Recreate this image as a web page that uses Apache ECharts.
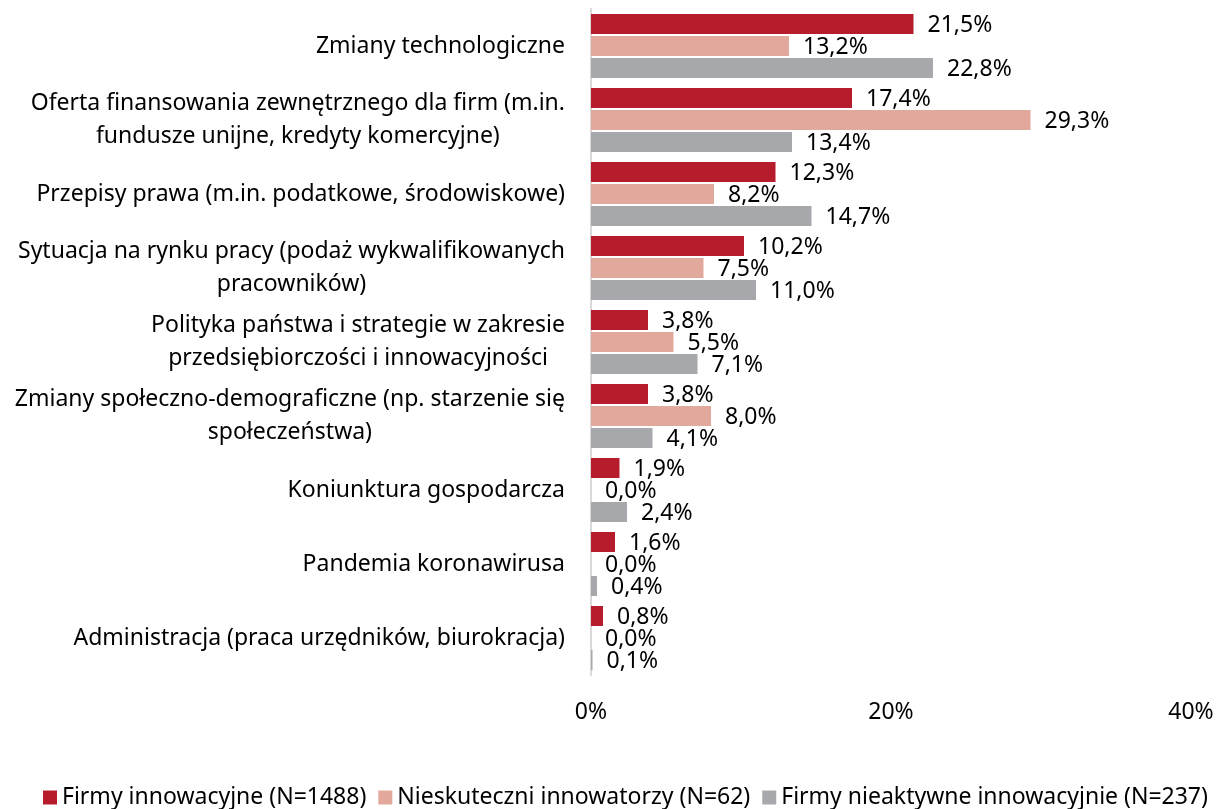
<!DOCTYPE html>
<html>
<head>
<meta charset="utf-8">
<script src="https://cdn.jsdelivr.net/npm/echarts@6/dist/echarts.min.js"></script>
<style>
html, body { margin: 0; padding: 0; background: #ffffff; }
#main { width: 1227px; height: 809px; }
</style>
</head>
<body>
<div id="main"></div>
<script>
// kategorie (od góry)
var categories = [
	'Zmiany technologiczne',
	'Oferta finansowania zewnętrznego dla firm (m.in.\nfundusze unijne, kredyty komercyjne)',
	'Przepisy prawa (m.in. podatkowe, środowiskowe)',
	'Sytuacja na rynku pracy (podaż wykwalifikowanych\npracowników)',
	'Polityka państwa i strategie w zakresie\nprzedsiębiorczości i innowacyjności',
	'Zmiany społeczno-demograficzne (np. starzenie się\nspołeczeństwa)',
	'Koniunktura gospodarcza',
	'Pandemia koronawirusa',
	'Administracja (praca urzędników, biurokracja)'
];
var innowacyjne = [21.5, 17.4, 12.3, 10.2, 3.8, 3.8, 1.9, 1.6, 0.8];
var nieskuteczni = [13.2, 29.3, 8.2, 7.5, 5.5, 8.0, 0.0, 0.0, 0.0];
var nieaktywne = [22.8, 13.4, 14.7, 11.0, 7.1, 4.1, 2.4, 0.4, 0.1];
var seriesNames = ['Firmy innowacyjne (N=1488)', 'Nieskuteczni innowatorzy (N=62)', 'Firmy nieaktywne innowacyjnie (N=237)'];
var colors = ['#b71c2c', '#e2a89c', '#a6a8ab'];

var font = 'Noto Sans';
var fs = 23;
var myChart = echarts.init(document.getElementById('main'));

var makeSeries = function(name, data, color) {
	return {
		name : name,
		type : 'bar',
		barGap : '10%',
		barCategoryGap : '13.5%',
		itemStyle : {
			color : color
		},
		label : {
			show : true,
			position : 'right',
			distance : 14,
			offset : [0, 1],
			color : '#000',
			fontFamily : font,
			fontSize : fs,
			formatter : function(p) {
				return p.value.toFixed(1).replace('.', ',') + '%';
			}
		},
		data : data
	};
};

option = {
	backgroundColor : '#ffffff',
	animation : false,
	color : colors,
	grid : {
		left : 591,
		right : 36,
		top : 9,
		bottom : 134
	},
	legend : {
		top : 781,
		left : 38,
		itemWidth : 14,
		itemHeight : 14,
		itemGap : 12,
		icon : 'rect',
		textStyle : {
			fontFamily : font,
			fontSize : 23,
			color : '#000'
		},
		data : seriesNames
	},
	xAxis : {
		type : 'value',
		min : 0,
		max : 40,
		interval : 20,
		axisLine : { show : false },
		axisTick : { show : false },
		splitLine : { show : false },
		axisLabel : {
			margin : 26,
			color : '#000',
			fontFamily : font,
			fontSize : fs,
			formatter : '{value}%'
		}
	},
	yAxis : {
		type : 'category',
		inverse : true,
		data : categories,
		axisLine : {
			show : true,
			lineStyle : { color : '#d9d9d9', width : 2 }
		},
		axisTick : { show : false },
		axisLabel : {
			margin : 26,
			color : '#000',
			fontFamily : font,
			fontSize : fs,
			lineHeight : 33,
			formatter : function(v) {
				return v.split('\n').map(function(l) {
					return '{c|' + l + '}';
				}).join('\n');
			},
			rich : {
				c : {
					align : 'center',
					fontFamily : font,
					fontSize : fs,
					lineHeight : 33,
					color : '#000'
				}
			}
		}
	},
	series : [
		makeSeries(seriesNames[0], innowacyjne, colors[0]),
		makeSeries(seriesNames[1], nieskuteczni, colors[1]),
		makeSeries(seriesNames[2], nieaktywne, colors[2])
	]
};
myChart.setOption(option);
</script>
</body>
</html>
